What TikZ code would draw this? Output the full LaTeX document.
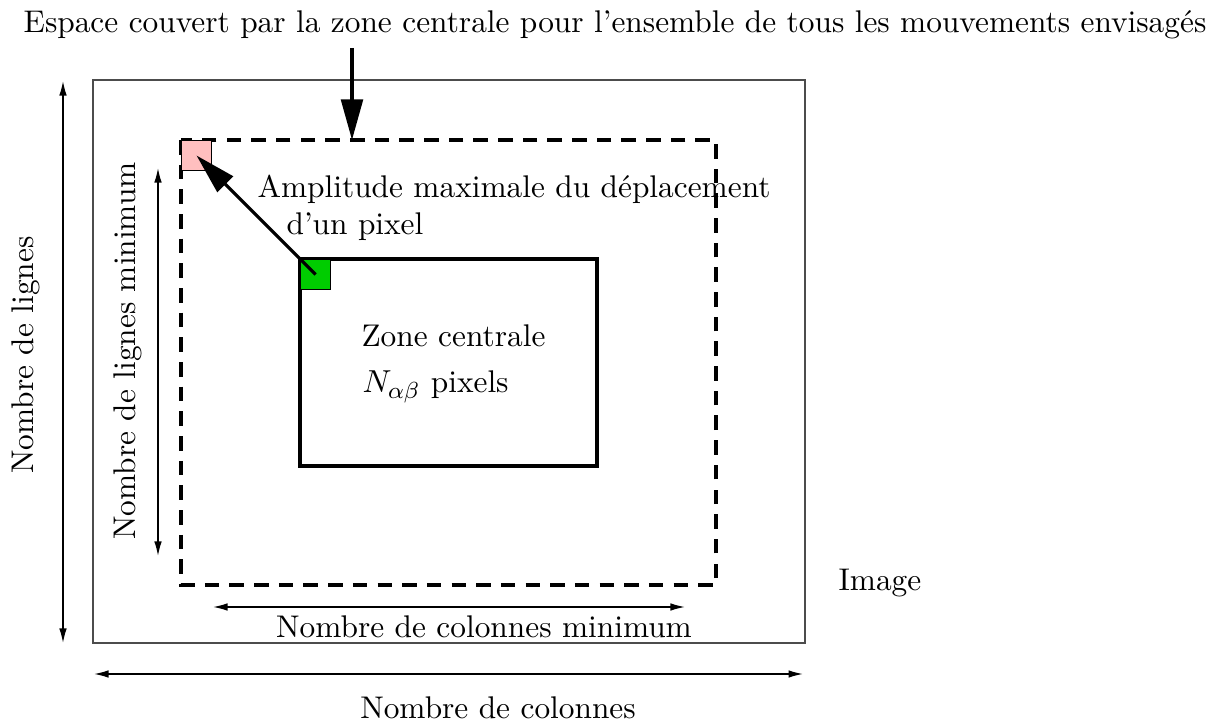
\documentclass[tikz,border=0pt]{standalone}
\usetikzlibrary{arrows.meta}
\begin{document}
\begin{tikzpicture}[x=0.3445pt,y=-0.3445pt,
  lbl/.style={font=\fontsize{10.8}{13}\selectfont, inner sep=0pt},
  thin arrow/.style={line width=0.5pt, {Latex[length=5pt,width=2.6pt]}-{Latex[length=5pt,width=2.6pt]}},
  thick arrow/.style={line width=1.1pt, -{Triangle[length=14pt,width=7.5pt]}},
  thickbox/.style={line width=1.1pt},
  dashbox/.style={line width=1.1pt, dash pattern=on 5pt off 3.5pt}]
\useasboundingbox (0,0) rectangle (1231,727);
% image frame
\draw[line width=0.5pt, black!70] (93,80) rectangle (805,643);
\node[lbl, anchor=west] (img) at (838,583) {Image};
% dashed region
\draw[dashbox] (181,140) rectangle (716,585);
% central zone
\draw[thickbox] (300,259) rectangle (597,466);
\node[draw, line width=0.4pt, fill={rgb,255:red,0;green,204;blue,0}, minimum size=10.3pt, inner sep=0pt, anchor=north west] (green) at (300,259) {};
\node[draw, line width=0.4pt, fill={rgb,255:red,255;green,191;blue,191}, minimum size=10.3pt, inner sep=0pt, anchor=north west] (pink) at (181,140) {};
\draw[thick arrow] (green.center) -- (pink.center);
% labels inside
\node[lbl, anchor=base west] (amp) at (257,198) {Amplitude maximale du d\'eplacement};
\node[lbl, anchor=base west] (dun) at (286,235) {d'un pixel};
\node[lbl, anchor=base west] (zone) at (361,347) {Zone centrale};
\node[lbl, anchor=base west] (npix) at (362,393) {$N_{\alpha\beta}$ pixels};
% top label and arrow
\node[lbl, anchor=base] (top) at (615,33) {Espace couvert par la zone centrale pour l'ensemble de tous les mouvements envisag\'es};
\coordinate (topstart) at (352,48);
\coordinate (toptip) at (352,140);
\draw[thick arrow] (topstart) -- (toptip);
% outer vertical
\coordinate (lv1) at (63,81);
\coordinate (lv2) at (63,643);
\draw[thin arrow] (lv1) -- (lv2);
\node[lbl, rotate=90, anchor=base] (nl) at (33,355) {Nombre de lignes};
% inner vertical
\coordinate (iv1) at (158,168);
\coordinate (iv2) at (158,556);
\draw[thin arrow] (iv1) -- (iv2);
\node[lbl, rotate=90, anchor=base] (nlm) at (135,351) {Nombre de lignes minimum};
% inner horizontal
\coordinate (ih1) at (213,607);
\coordinate (ih2) at (685,607);
\draw[thin arrow] (ih1) -- (ih2);
\node[lbl, anchor=base] (ncm) at (484,637) {Nombre de colonnes minimum};
% outer horizontal
\coordinate (oh1) at (94,674);
\coordinate (oh2) at (803,674);
\draw[thin arrow] (oh1) -- (oh2);
\node[lbl, anchor=base] (nc) at (498,718) {Nombre de colonnes};
\end{tikzpicture}
\end{document}
